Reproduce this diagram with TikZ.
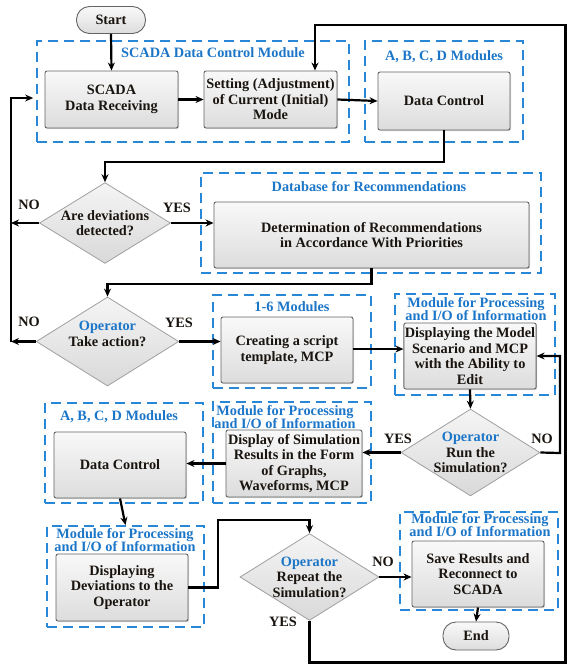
\documentclass[tikz,border=0pt]{standalone}
\usepackage{fontspec}
\setmainfont{Liberation Serif}
\usetikzlibrary{arrows.meta,shapes.geometric,shadows}
\definecolor{tblue}{RGB}{28,118,200}
\definecolor{dblue}{RGB}{40,135,215}
\definecolor{bord}{RGB}{100,100,100}
\definecolor{txt}{RGB}{25,20,15}
\begin{document}
\begin{tikzpicture}[x=1pt,y=-1pt,
  font=\fontsize{14.3}{15.5}\selectfont\bfseries,
  box/.style={draw=bord, line width=0.9pt, rounded corners=2pt, top color=gray!5, bottom color=gray!27,
    drop shadow={shadow xshift=1pt, shadow yshift=-1pt, opacity=0.35},
    align=center, inner sep=1pt, text=txt},
  pill/.style={draw=bord, line width=0.9pt, rounded corners=13pt, top color=gray!5, bottom color=gray!27,
    align=center, inner sep=1pt, text=txt},
  dia/.style={diamond, draw=gray!75, line width=0.8pt, top color=gray!8, bottom color=gray!30,
    align=center, inner sep=0pt, aspect=1.6, text=txt},
  grp/.style={draw=dblue, line width=1.7pt, dash pattern=on 10pt off 6pt, inner sep=0pt},
  ttl/.style={text=tblue, align=center, inner sep=0pt, font=\fontsize{14.3}{13.5}\selectfont\bfseries},
  lbl/.style={inner sep=0pt, text=txt},
  arr/.style={-{Stealth[length=8pt,width=7pt]}, line width=2.2pt}]
\useasboundingbox (0,0) rectangle (567,664);

% groups
\node[grp, minimum width=312, minimum height=101] (g1) at (193,91.5) {};
\node[grp, minimum width=158, minimum height=101] (g2) at (444,91.5) {};
\node[grp, minimum width=340, minimum height=100] (g3) at (371,223) {};
\node[grp, minimum width=158, minimum height=93] (g4) at (292,341.5) {};
\node[grp, minimum width=160, minimum height=101] (g5) at (475,344.5) {};
\node[grp, minimum width=158, minimum height=101] (g6) at (292,452.5) {};
\node[grp, minimum width=158, minimum height=100] (g7) at (124,453) {};
\node[grp, minimum width=157, minimum height=101] (g8) at (125.5,576.5) {};
\node[grp, minimum width=158, minimum height=98] (g9) at (479,561) {};

% titles
\node[ttl] (t1) at (213,53) {SCADA Data Control Module};
\node[ttl] (t2) at (444,57) {A, B, C, D Modules};
\node[ttl] (t3) at (369,187) {Database for Recommendations};
\node[ttl] (t4) at (292,307) {1-6 Modules};
\node[ttl] (t5) at (476,309) {Module for Processing\\and I/O of Information};
\node[ttl] (t6) at (285,417) {Module for Processing\\and I/O of Information};
\node[ttl] (t7) at (119,417) {A, B, C, D Modules};
\node[ttl] (t8) at (125,540) {Module for Processing\\and I/O of Information};
\node[ttl] (t9) at (480,525) {Module for Processing\\and I/O of Information};

% nodes
\node[pill, minimum width=69, minimum height=27] (start) at (111,20) {Start};
\node[box, minimum width=133, minimum height=57] (scada) at (111.5,99.5) {SCADA\\Data Receiving};
\node[box, minimum width=133, minimum height=57] (setting) at (270.5,99.5) {Setting (Adjustment)\\of Current (Initial)\\Mode};
\node[box, minimum width=132, minimum height=58] (dc1) at (444,101) {Data Control};
\node[dia, minimum width=131, minimum height=80] (d1) at (105,223) {Are deviations\\detected?};
\node[box, minimum width=315, minimum height=66] (rec) at (371.5,235) {Determination of Recommendations\\in Accordance With Priorities};
\node[dia, minimum width=131, minimum height=79] (op1) at (107.5,341.5) {\textcolor{tblue}{Operator}\\Take action?\\\mbox{}};
\node[box, minimum width=132, minimum height=66] (create) at (287,350) {Creating a script\\template, MCP};
\node[box, minimum width=132, minimum height=66] (disp) at (470,356) {Displaying the Model\\Scenario and MCP\\with the Ability to\\Edit};
\node[dia, minimum width=131, minimum height=80] (run) at (470.5,452.5) {\textcolor{tblue}{Operator}\\Run the\\Simulation?};
\node[box, minimum width=136, minimum height=67] (sim) at (294,463.5) {Display of Simulation\\Results in the Form\\of Graphs,\\Waveforms, MCP};
\node[box, minimum width=132, minimum height=66] (dc2) at (120,465) {Data Control};
\node[box, minimum width=132, minimum height=67] (dev) at (122,587.5) {Displaying\\Deviations to the\\Operator};
\node[dia, minimum width=131, minimum height=80] (rep) at (309.5,577) {\textcolor{tblue}{Operator}\\Repeat the\\Simulation?};
\node[box, minimum width=132, minimum height=66] (save) at (478,574) {Save Results and\\Reconnect to\\SCADA};
\node[pill, minimum width=66, minimum height=28] (end) at (476,636) {End};

% labels
\node[lbl] (no1) at (29,205) {NO};
\node[lbl] (yes1) at (177,208) {YES};
\node[lbl] (no2) at (29,322) {NO};
\node[lbl] (yes2) at (179,323) {YES};
\node[lbl] (yes3) at (398,439) {YES};
\node[lbl] (no3) at (542,439) {NO};
\node[lbl] (no4) at (383,562) {NO};
\node[lbl] (yes4) at (283,622) {YES};

% coordinates
\coordinate (c1) at (105,162);
\coordinate (c2) at (107.5,284);
\coordinate (nl1) at (11,223);
\coordinate (nl2) at (11,341.5);
\coordinate (nltop) at (11,98);
\coordinate (rr) at (560,453);
\coordinate (dv) at (218,520);
\coordinate (bot) at (565.5,662.5);
\coordinate (topr) at (565.5,25);

% connectors
\draw[arr] (start.south) -- (scada.north);
\draw[arr] (scada.east) -- (setting.west);
\draw[arr] (setting.east) -- (dc1.west);
\draw[arr] (dc1.south) |- (c1) -- (d1.north);
\draw[arr] (d1.west) -- (nl1);
\draw[arr] (d1.east) -- (d1.east -| rec.west);
\draw[arr] (rec.south) |- (c2) -- (op1.north);
\draw[arr] (op1.west) -- (nl2);
\draw[arr] (nl2) -- (nltop) -- ([xshift=-3pt]g1.west |- nltop);
\draw[arr] (op1.east) -- (op1.east -| create.west);
\draw[arr] ([yshift=1pt]create.east) -- ([yshift=1pt]create.east -| disp.west);
\draw[arr] (disp.south) -- (run.north);
\draw[arr] (run.east) -- (rr) |- (disp.east);
\draw[arr] (run.west) -- (run.west -| sim.east);
\draw[arr] (sim.west) -- (sim.west -| dc2.east);
\draw[arr] (dc2.south) -- (g8.north);
\draw[arr] (dev.east) -| (dv) -| (rep.north);
\draw[arr] (rep.east) -- (rep.east -| save.west);
\draw[arr] (save.south) -- (end.north);
\draw[arr] (rep.south) |- (bot) -- (topr) -| ([xshift=44.5pt]setting.north);
\end{tikzpicture}
\end{document}
